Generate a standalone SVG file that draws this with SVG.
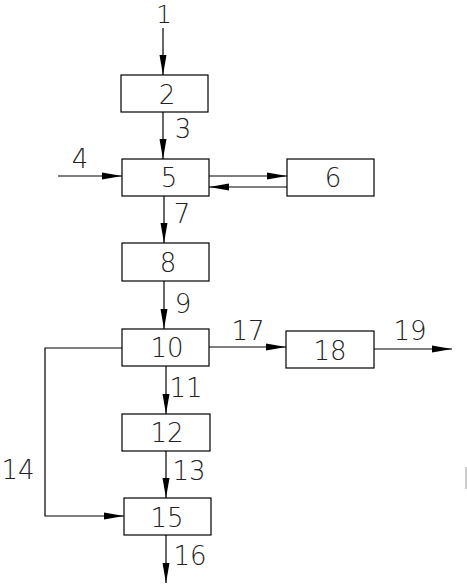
<svg xmlns="http://www.w3.org/2000/svg" width="467" height="584" viewBox="0 0 467 584">
<style>
rect{fill:#fff;stroke:#000;stroke-width:1.2}
.c line,.c polyline{fill:none;stroke:#000;stroke-width:1.2}
text{font-family:"DejaVu Sans","Liberation Sans",sans-serif;font-weight:200;font-size:26px;fill:#222;text-anchor:middle}
</style>
<defs>
<marker id="a" markerUnits="userSpaceOnUse" markerWidth="20" markerHeight="8" refX="20" refY="4" orient="auto">
<path d="M0,0.5 L20,4 L0,7.5 z" fill="#000"/>
</marker>
</defs>
<rect width="467" height="584" fill="#fff" style="stroke:none"/>
<g class="c" id="connectors">
<line x1="163" y1="28" x2="163" y2="75" marker-end="url(#a)"/>
<line x1="163" y1="112" x2="163" y2="159" marker-end="url(#a)"/>
<line x1="58" y1="176" x2="122" y2="176" marker-end="url(#a)"/>
<line x1="209" y1="176" x2="287" y2="176" marker-end="url(#a)"/>
<line x1="287" y1="187" x2="209" y2="187" marker-end="url(#a)"/>
<line x1="164" y1="196" x2="164" y2="243" marker-end="url(#a)"/>
<line x1="164" y1="281" x2="164" y2="329" marker-end="url(#a)"/>
<line x1="166" y1="366" x2="166" y2="414" marker-end="url(#a)"/>
<line x1="166" y1="451" x2="166" y2="498" marker-end="url(#a)"/>
<line x1="166" y1="535" x2="166" y2="583" marker-end="url(#a)"/>
<polyline points="122,348 45,348 45,516 124,516" marker-end="url(#a)"/>
<line x1="209" y1="347" x2="286" y2="347" marker-end="url(#a)"/>
<line x1="374" y1="349" x2="452" y2="349" marker-end="url(#a)"/>
<line x1="466" y1="467" x2="466" y2="489" style="stroke:#aaa"/>
</g>
<g id="n2"><rect x="121" y="75" width="87" height="37"/><text x="167" y="104">2</text></g>
<g id="n5"><rect x="122" y="159" width="87" height="37"/><text x="169" y="187">5</text></g>
<g id="n6"><rect x="287" y="159" width="87" height="37"/><text x="333" y="187">6</text></g>
<g id="n8"><rect x="122" y="243" width="87" height="38"/><text x="168" y="272">8</text></g>
<g id="n10"><rect x="122" y="329" width="87" height="37"/><text x="167" y="357">10</text></g>
<g id="n12"><rect x="122" y="414" width="88" height="37"/><text x="167" y="442">12</text></g>
<g id="n15"><rect x="124" y="498" width="87" height="37"/><text x="167" y="527">15</text></g>
<g id="n18"><rect x="286" y="331" width="88" height="37"/><text x="330" y="360">18</text></g>
<g id="labels">
<text x="164" y="23" style="font-size:25px">1</text>
<text x="183" y="138">3</text>
<text x="80" y="168">4</text>
<text x="182" y="223">7</text>
<text x="183" y="313">9</text>
<text x="186" y="397">11</text>
<text x="189" y="480">13</text>
<text x="18" y="479">14</text>
<text x="190" y="565">16</text>
<text x="248" y="340">17</text>
<text x="410" y="340">19</text>
</g>
</svg>
